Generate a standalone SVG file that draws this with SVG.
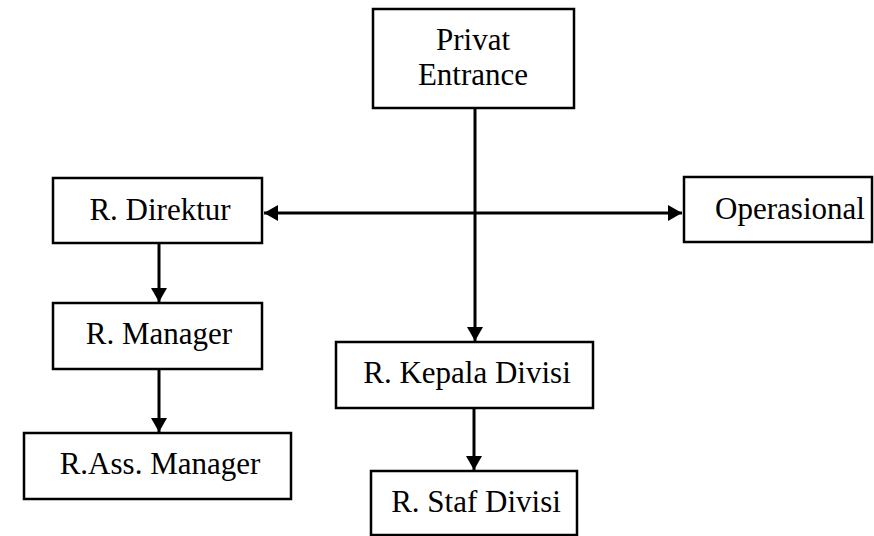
<svg xmlns="http://www.w3.org/2000/svg" width="874" height="536" viewBox="0 0 874 536">
<defs>
<style>
.box{fill:#fff;stroke:#000;stroke-width:2.5}
.lbl{font-family:"Liberation Serif","Times New Roman",serif;font-size:31px;fill:#000;text-anchor:middle}
.ln{stroke:#000;stroke-width:3;fill:none}
</style>
<marker id="ah" markerUnits="userSpaceOnUse" markerWidth="16" markerHeight="16" viewBox="0 0 14 16" refX="14" refY="8" orient="auto-start-reverse">
<path d="M0,0 L14,8 L0,16 Z" fill="#000"/>
</marker>
</defs>
<rect width="874" height="536" fill="#fff"/>
<g id="connectors">
<line class="ln" x1="475" y1="108" x2="475" y2="341" marker-end="url(#ah)"/>
<line class="ln" x1="264" y1="213" x2="682" y2="213" marker-start="url(#ah)" marker-end="url(#ah)"/>
<line class="ln" x1="159" y1="243" x2="159" y2="302" marker-end="url(#ah)"/>
<line class="ln" x1="159" y1="369" x2="159" y2="432" marker-end="url(#ah)"/>
<line class="ln" x1="474" y1="408" x2="474" y2="470" marker-end="url(#ah)"/>
</g>
<g id="privat-entrance">
<rect class="box" x="373" y="9" width="201" height="99"/>
<text class="lbl" x="473" y="50">Privat</text>
<text class="lbl" x="473" y="85">Entrance</text>
</g>
<g id="r-direktur">
<rect class="box" x="53" y="178" width="209" height="65"/>
<text class="lbl" x="160" y="220">R. Direktur</text>
</g>
<g id="operasional">
<rect class="box" x="684" y="177" width="188" height="65"/>
<text class="lbl" x="790" y="219">Operasional</text>
</g>
<g id="r-manager">
<rect class="box" x="53" y="303" width="209" height="66"/>
<text class="lbl" x="159" y="344">R. Manager</text>
</g>
<g id="r-ass-manager">
<rect class="box" x="24" y="433" width="267" height="66"/>
<text class="lbl" x="160" y="474">R.Ass. Manager</text>
</g>
<g id="r-kepala-divisi">
<rect class="box" x="336" y="342" width="257" height="66"/>
<text class="lbl" x="467" y="383">R. Kepala Divisi</text>
</g>
<g id="r-staf-divisi">
<rect class="box" x="371" y="471" width="206" height="64"/>
<text class="lbl" x="476" y="512">R. Staf Divisi</text>
</g>
</svg>
